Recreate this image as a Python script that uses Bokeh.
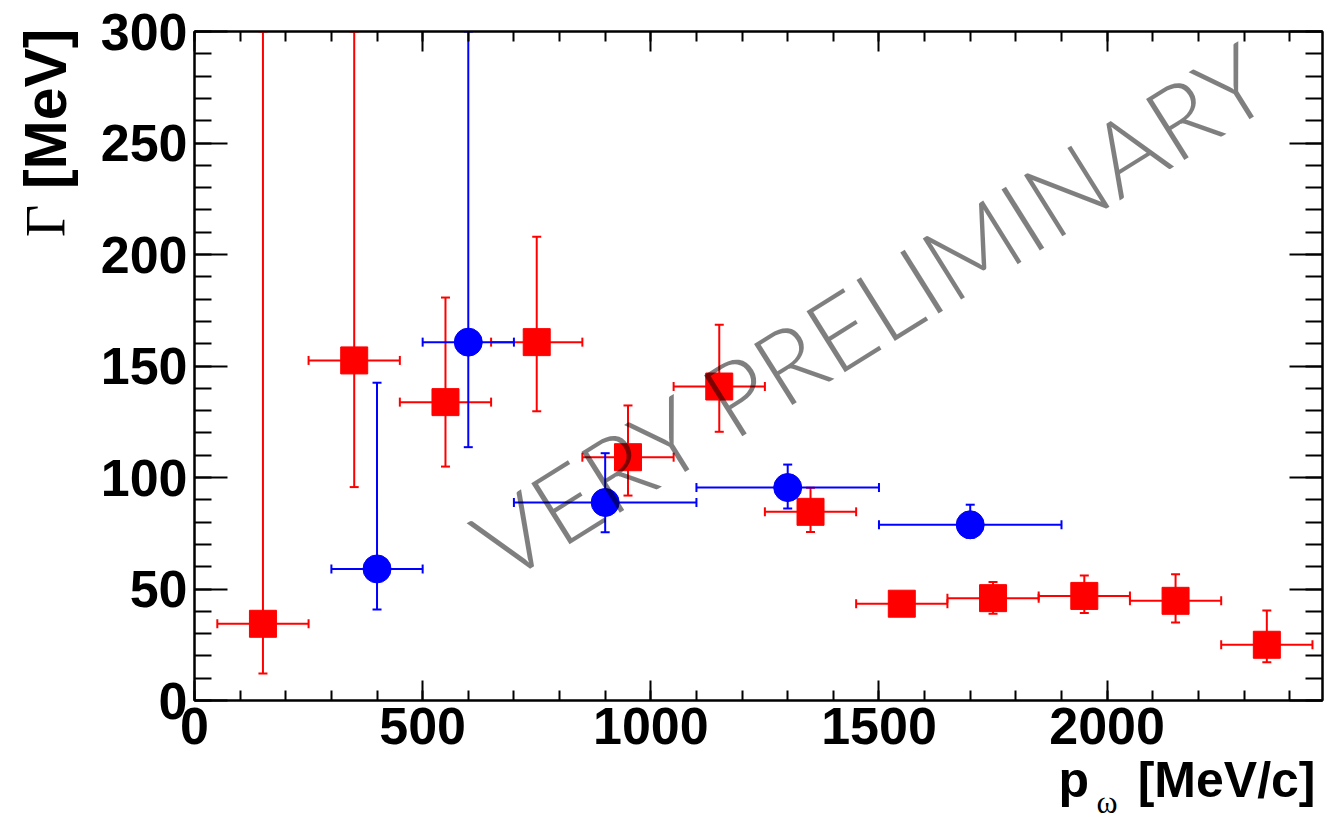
import math
from bokeh.plotting import figure
from bokeh.models import (ColumnDataSource, Whisker, TeeHead, Range1d, LinearAxis,
                          SingleIntervalTicker, CustomJSTickFormatter)
from bokeh.core.properties import value
from bokeh.embed import file_html
from bokeh.resources import INLINE

# ---- data ----
red_x = [150, 350, 550, 750, 950, 1150, 1350, 1550, 1750, 1950, 2150, 2350]
red_xerr = [100, 100, 100, 100, 100, 100, 100, 100, 100, 100, 100, 100]
red_y = [34.4, 152.5, 133.8, 160.7, 109.1, 140.8, 84.6, 43.4, 45.9, 46.9, 44.7, 25.0]
red_ylow = [12.1, 95.7, 104.9, 129.7, 91.9, 120.5, 75.6, 39.5, 38.9, 39.2, 35.0, 17.2]
red_yhigh = [300, 300, 180.7, 208.0, 132.3, 168.5, 95.4, 47.5, 53.1, 56.0, 56.6, 40.4]  # 300 = clipped at top

blue_x = [400, 600, 900, 1300, 1700]
blue_xerr = [100, 100, 200, 200, 200]
blue_y = [59.0, 160.7, 88.8, 95.5, 78.8]
blue_ylow = [40.8, 113.6, 75.5, 86.1, 73.0]
blue_yhigh = [142.5, 300, 110.9, 105.8, 87.8]  # 300 = clipped at top

x_range = (0, 2472)
y_range = (0, 300)

x_title_main = "[MeV/c]"
x_title_var = "p"
x_title_sub = "ω"
y_title_main = "[MeV]"
y_title_var = "Γ"
watermark = "VERY PRELIMINARY"

RED = "#ff0000"
BLUE = "#0000ff"
BOLD = "Liberation Sans"
SERIF = "Liberation Serif"


def make_source(x, xerr, y, ylow, yhigh):
    return ColumnDataSource(dict(
        x=x, y=y,
        xlo=[a - e for a, e in zip(x, xerr)],
        xhi=[a + e for a, e in zip(x, xerr)],
        ylo=ylow, yhi=yhigh,
    ))


red_src = make_source(red_x, red_xerr, red_y, red_ylow, red_yhigh)
blue_src = make_source(blue_x, blue_xerr, blue_y, blue_ylow, blue_yhigh)

p = figure(width=1326, height=825, output_backend="svg", toolbar_location=None,
           x_range=Range1d(*x_range), y_range=Range1d(*y_range),
           min_border_left=194, min_border_right=4, min_border_top=31, min_border_bottom=125,
           x_axis_location=None, y_axis_location=None)
p.xgrid.visible = False
p.ygrid.visible = False
p.outline_line_color = "black"
p.outline_line_width = 2
p.background_fill_color = "white"
p.border_fill_color = "white"


def style_axis(ax, major_in, minor_in, labels):
    ax.axis_line_width = 2
    ax.major_tick_in = major_in
    ax.major_tick_out = 0
    ax.minor_tick_in = minor_in
    ax.minor_tick_out = 0
    ax.major_tick_line_width = 2
    ax.minor_tick_line_width = 2
    if labels:
        ax.major_label_text_font = BOLD
        ax.major_label_text_font_style = "bold"
        ax.major_label_text_font_size = "52px"
        ax.major_label_text_color = "black"
        ax.major_label_standoff = 7
    else:
        ax.formatter = CustomJSTickFormatter(code="return ''")
        ax.major_label_text_font_size = "2px"
        ax.major_label_standoff = 0


for loc in ["below", "above"]:
    ax = LinearAxis(ticker=SingleIntervalTicker(interval=500, num_minor_ticks=5))
    style_axis(ax, 20, 10, loc == "below")
    p.add_layout(ax, loc)
for loc in ["left", "right"]:
    ax = LinearAxis(ticker=SingleIntervalTicker(interval=50, num_minor_ticks=5))
    style_axis(ax, 33, 17, loc == "left")
    p.add_layout(ax, loc)


def add_series(src, color, marker, size):
    head = dict(size=9, line_width=2, line_color=color)
    wy = Whisker(source=src, base="x", lower="ylo", upper="yhi", dimension="height",
                 line_color=color, line_width=2,
                 lower_head=TeeHead(**head), upper_head=TeeHead(**head))
    wx = Whisker(source=src, base="y", lower="xlo", upper="xhi", dimension="width",
                 line_color=color, line_width=2,
                 lower_head=TeeHead(**head), upper_head=TeeHead(**head))
    p.add_layout(wy)
    p.add_layout(wx)
    p.scatter("x", "y", source=src, marker=marker, size=size,
              fill_color=color, line_color=color)


add_series(red_src, RED, "square", 27)
add_series(blue_src, BLUE, "circle", 28)

# watermark (black with half transparency -> grey), centred in the frame area
p.text(x=[(x_range[0] + x_range[1]) * 0.6], y=[(y_range[0] + y_range[1]) * 0.585],
       text=[watermark], angle=math.radians(32),
       text_align="center", text_baseline="middle",
       text_font=value("'Lato Light', Lato"), text_font_size="102px",
       text_color="black", text_alpha=0.5, level="overlay")

# axis titles (ROOT style: right / top aligned), anchored at frame corners
x_end, y_bot = [x_range[1]], [y_range[0]]
p.text(x=x_end, y=y_bot, text=[x_title_main], x_offset=-7, y_offset=79,
       text_align="right", text_baseline="alphabetic",
       text_font=value(BOLD), text_font_style="bold", text_font_size="50px",
       text_color="black", level="overlay")
p.text(x=x_end, y=y_bot, text=[x_title_var], x_offset=-264, y_offset=79,
       text_align="left", text_baseline="alphabetic",
       text_font=value(BOLD), text_font_style="bold", text_font_size="50px",
       text_color="black", level="overlay")
p.text(x=x_end, y=y_bot, text=[x_title_sub], x_offset=-226, y_offset=101,
       text_align="left", text_baseline="alphabetic",
       text_font=value(SERIF), text_font_size="32px",
       text_color="black", level="overlay")

x_start, y_top = [x_range[0]], [y_range[1]]
p.text(x=x_start, y=y_top, text=[y_title_main], x_offset=-149, y_offset=-3,
       angle=math.pi / 2, text_align="right", text_baseline="middle",
       text_font=value(BOLD), text_font_style="bold", text_font_size="59px",
       text_color="black", level="overlay")
p.text(x=x_start, y=y_top, text=[y_title_var], x_offset=-149, y_offset=173,
       angle=math.pi / 2, text_align="right", text_baseline="middle",
       text_font=value(SERIF), text_font_size="56px",
       text_color="black", level="overlay")

open("out.html", "w").write(file_html(p, INLINE))
